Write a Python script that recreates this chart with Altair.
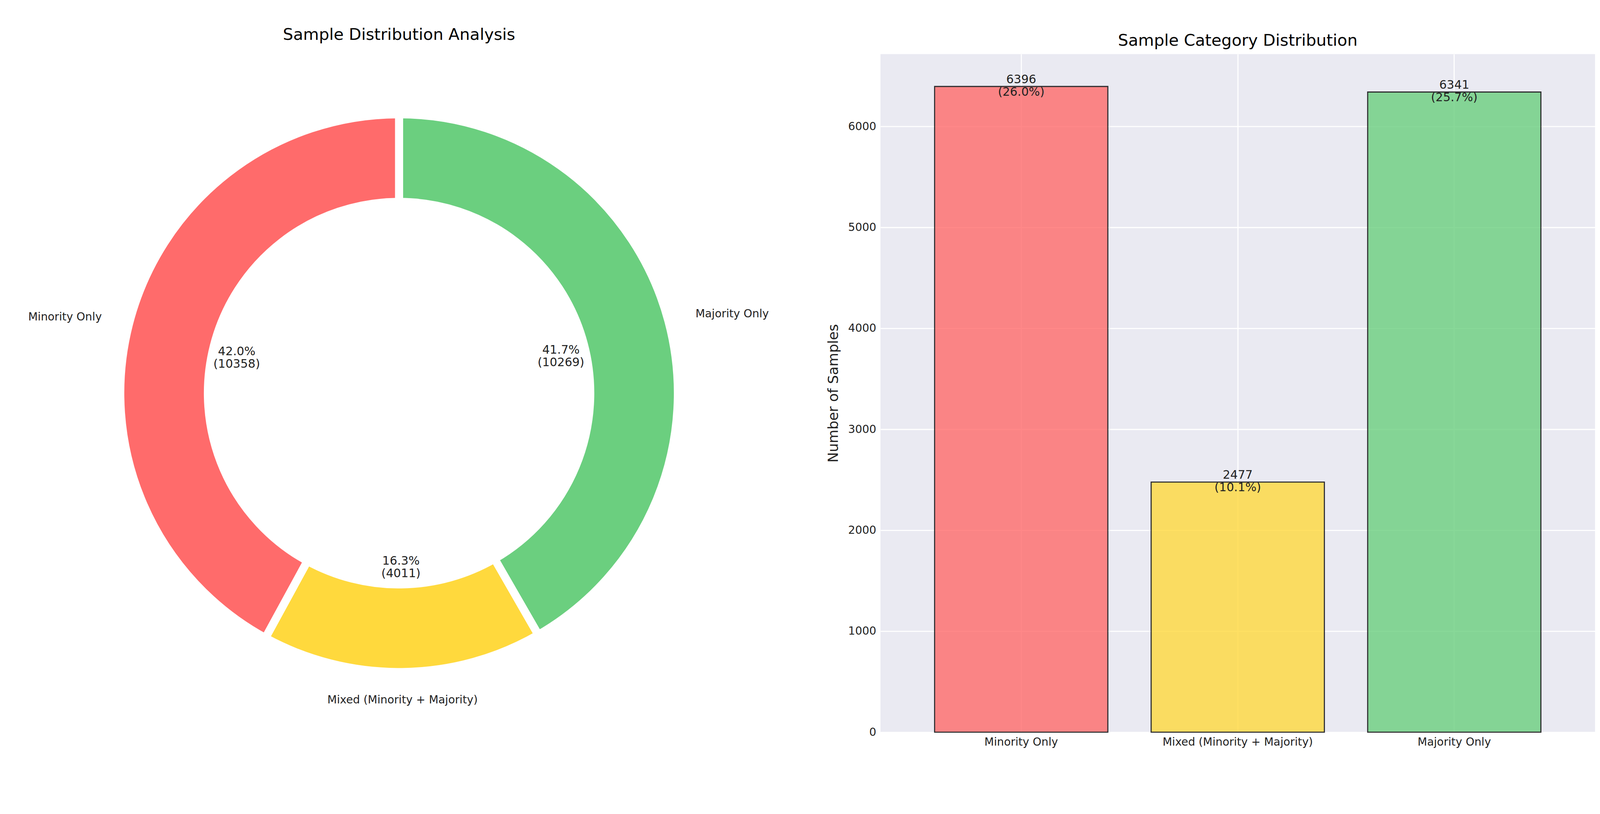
import math
import altair as alt
import pandas as pd

cats = ["Majority Only", "Mixed (Minority + Majority)", "Minority Only"]
donut_vals = [10269, 4011, 10358]
donut_pct = ["41.7%", "16.3%", "42.0%"]
sides = ["right", "center", "left"]

bar_cats = ["Minority Only", "Mixed (Minority + Majority)", "Majority Only"]
bar_vals = [6396, 2477, 6341]
bar_pct = ["26.0%", "10.1%", "25.7%"]

colors = {"Minority Only": "#ff6b6b", "Mixed (Minority + Majority)": "#ffd93d", "Majority Only": "#6bcf7f"}
cscale = alt.Scale(domain=list(colors), range=list(colors.values()))

dd = pd.DataFrame({"cat": cats, "v": donut_vals, "o": [0, 1, 2], "side": sides,
                   "lbl": [f"{p}\n({v})" for p, v in zip(donut_pct, donut_vals)]})
bd = pd.DataFrame({"cat": bar_cats, "v": bar_vals,
                   "lbl": [f"{v}\n({p})" for v, p in zip(bar_vals, bar_pct)]})

FONT = "DejaVu Sans"
total = sum(donut_vals)
tscale = alt.Scale(domain=[0, total], range=[0, 2 * math.pi])

base = alt.Chart(dd).transform_window(
    end="sum(v)", sort=[alt.SortField("o")], frame=[None, 0]
).transform_calculate(start="datum.end - datum.v", mid="datum.end - datum.v / 2")

arcs = base.mark_arc(innerRadius=519, outerRadius=757, stroke="white", strokeWidth=22).encode(
    theta=alt.Theta("start:Q", scale=tscale), theta2="end:Q",
    color=alt.Color("cat:N", scale=cscale, legend=None))
pct = base.mark_text(radius=455, fontSize=32, lineBreak="\n", font=FONT, color="#222").encode(
    theta=alt.Theta("mid:Q", scale=tscale), text="lbl:N")
outer = []
for side, al in [("left", "right"), ("right", "left"), ("center", "center")]:
    outer.append(base.mark_text(radius=833, fontSize=30, align=al, font=FONT, color="#222")
                 .encode(theta=alt.Theta("mid:Q", scale=tscale), text="cat:N")
                 .transform_filter(alt.datum.side == side))
donut = alt.layer(arcs, pct, *outer).properties(
    width=2140, height=1840,
    title=alt.TitleParams("Sample Distribution Analysis", fontSize=44, font=FONT, fontWeight="normal", offset=30))

bars = alt.Chart(bd).mark_bar(stroke="black", strokeWidth=3, opacity=0.8).encode(
    x=alt.X("cat:N", sort=bar_cats, title=None,
            scale=alt.Scale(paddingInner=0.2, paddingOuter=0.25),
            axis=alt.Axis(labelAngle=0, labelFontSize=30, labelFont=FONT, domain=False, ticks=False,
                          labelLimit=0, grid=True, gridColor="white", gridWidth=3,
                          labelColor="#222", labelPadding=12)),
    y=alt.Y("v:Q", title="Number of Samples", scale=alt.Scale(domain=[0, 6716], nice=False),
            axis=alt.Axis(values=list(range(0, 7000, 1000)), format="d", labelFontSize=30, labelFont=FONT,
                          titleFontSize=38, titleFont=FONT, titleFontWeight="normal", domain=False,
                          ticks=False, gridColor="white", gridWidth=3, labelColor="#222",
                          titleColor="#222", labelPadding=12, titlePadding=20)),
    color=alt.Color("cat:N", scale=cscale, legend=None),
)
blabels = alt.Chart(bd).mark_text(baseline="bottom", fontSize=32, lineBreak="\n", font=FONT,
                                  color="#222", dy=-2).encode(
    x=alt.X("cat:N", sort=bar_cats), y="v:Q", text="lbl:N")
barchart = alt.layer(bars, blabels).properties(
    width=1940, height=1840,
    title=alt.TitleParams("Sample Category Distribution", fontSize=44, font=FONT, fontWeight="normal", offset=14))

chart = alt.hconcat(donut.properties(view=alt.ViewBackground(fill="white", strokeWidth=0)),
                    barchart.properties(view=alt.ViewBackground(fill="#EAEAF2", strokeWidth=0)),
                    spacing=90)
chart.save("out.html", embed_options={"renderer": "svg", "actions": False})
